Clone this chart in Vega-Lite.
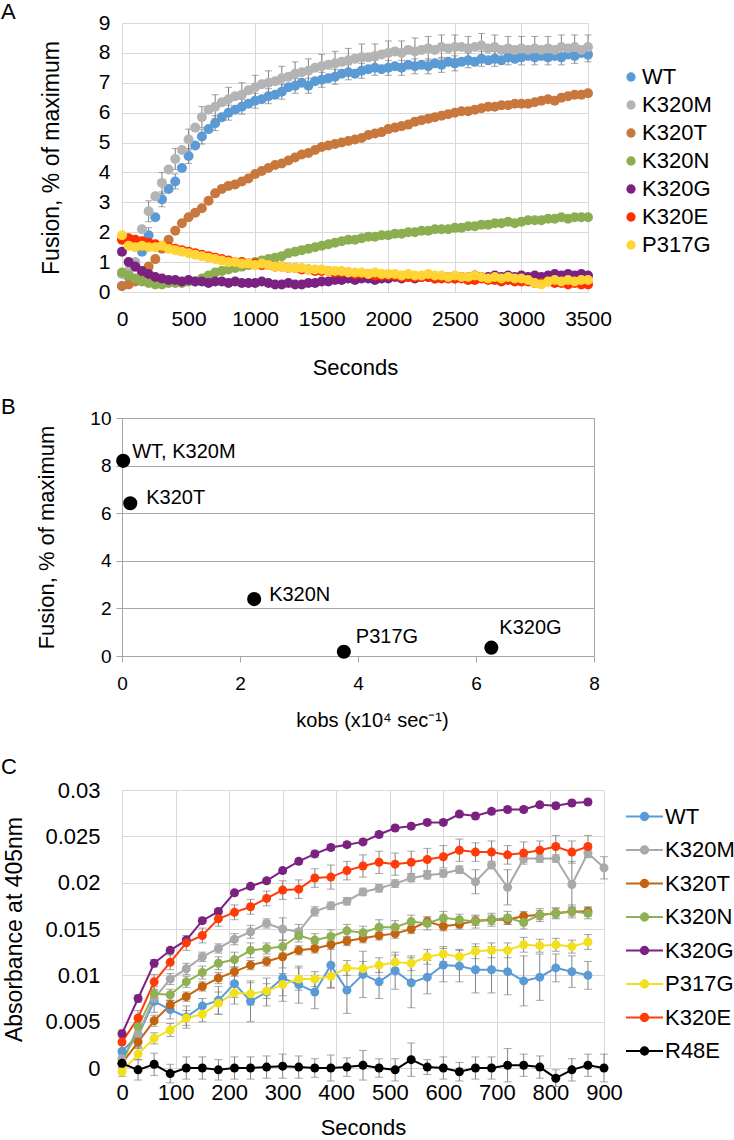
{
"$schema": "https://vega.github.io/schema/vega-lite/v6.json",
"background": "white",
"padding": {"left": 0, "top": 1, "right": 0, "bottom": 0},
"config": {
  "font": "Liberation Sans",
  "view": {"stroke": null},
  "axis": {"labelColor": "#000000", "titleColor": "#000000", "titleFontWeight": "normal", "labelFont": "Liberation Sans", "titleFont": "Liberation Sans", "labelFlush": false, "labelOverlap": false},
  "legend": {"labelColor": "#000000", "labelFont": "Liberation Sans"},
  "title": {"fontWeight": "normal", "font": "Liberation Sans", "color": "#000000"}
},
"bounds": "flush",
"spacing": 0,
"resolve": {"scale": {"x": "independent", "y": "independent", "color": "independent"}},
"datasets": {
"fa": [
{"g":"WT","t":0,"v":0.2},{"g":"WT","t":50,"v":0.5},{"g":"WT","t":100,"v":0.9,"e":0.2},{"g":"WT","t":150,"v":1.35},{"g":"WT","t":200,"v":1.9,"e":0.25},{"g":"WT","t":250,"v":2.5},{"g":"WT","t":300,"v":3.1,"e":0.25},{"g":"WT","t":350,"v":3.45},{"g":"WT","t":400,"v":3.7,"e":0.25},{"g":"WT","t":450,"v":4.15},
{"g":"WT","t":500,"v":4.55,"e":0.25},{"g":"WT","t":550,"v":4.9},{"g":"WT","t":600,"v":5.2,"e":0.25},{"g":"WT","t":650,"v":5.45},{"g":"WT","t":700,"v":5.65,"e":0.25},{"g":"WT","t":750,"v":5.85},{"g":"WT","t":800,"v":6.0,"e":0.25},{"g":"WT","t":850,"v":6.1},{"g":"WT","t":900,"v":6.2,"e":0.25},{"g":"WT","t":950,"v":6.3},
{"g":"WT","t":1000,"v":6.4,"e":0.25},{"g":"WT","t":1050,"v":6.45},{"g":"WT","t":1100,"v":6.55,"e":0.25},{"g":"WT","t":1150,"v":6.6},{"g":"WT","t":1200,"v":6.7,"e":0.25},{"g":"WT","t":1250,"v":6.85},{"g":"WT","t":1300,"v":6.9,"e":0.25},{"g":"WT","t":1350,"v":7.0},{"g":"WT","t":1400,"v":6.9,"e":0.25},{"g":"WT","t":1450,"v":7.05},
{"g":"WT","t":1500,"v":7.1,"e":0.25},{"g":"WT","t":1550,"v":7.15},{"g":"WT","t":1600,"v":7.2,"e":0.25},{"g":"WT","t":1650,"v":7.3},{"g":"WT","t":1700,"v":7.35,"e":0.25},{"g":"WT","t":1750,"v":7.3},{"g":"WT","t":1800,"v":7.4,"e":0.25},{"g":"WT","t":1850,"v":7.45},{"g":"WT","t":1900,"v":7.5,"e":0.25},{"g":"WT","t":1950,"v":7.45},
{"g":"WT","t":2000,"v":7.5,"e":0.25},{"g":"WT","t":2050,"v":7.55},{"g":"WT","t":2100,"v":7.5,"e":0.25},{"g":"WT","t":2150,"v":7.6},{"g":"WT","t":2200,"v":7.55,"e":0.25},{"g":"WT","t":2250,"v":7.6},{"g":"WT","t":2300,"v":7.55,"e":0.25},{"g":"WT","t":2350,"v":7.65},{"g":"WT","t":2400,"v":7.6,"e":0.25},{"g":"WT","t":2450,"v":7.7},
{"g":"WT","t":2500,"v":7.65,"e":0.25},{"g":"WT","t":2550,"v":7.7},{"g":"WT","t":2600,"v":7.75,"e":0.25},{"g":"WT","t":2650,"v":7.7},{"g":"WT","t":2700,"v":7.8,"e":0.25},{"g":"WT","t":2750,"v":7.75},{"g":"WT","t":2800,"v":7.8,"e":0.25},{"g":"WT","t":2850,"v":7.75},{"g":"WT","t":2900,"v":7.85,"e":0.25},{"g":"WT","t":2950,"v":7.8},
{"g":"WT","t":3000,"v":7.85,"e":0.25},{"g":"WT","t":3050,"v":7.9},{"g":"WT","t":3100,"v":7.85,"e":0.25},{"g":"WT","t":3150,"v":7.9},{"g":"WT","t":3200,"v":7.85,"e":0.25},{"g":"WT","t":3250,"v":7.9},{"g":"WT","t":3300,"v":7.85,"e":0.25},{"g":"WT","t":3350,"v":7.95},{"g":"WT","t":3400,"v":7.9,"e":0.25},{"g":"WT","t":3450,"v":8.0},{"g":"WT","t":3500,"v":7.95,"e":0.25},
{"g":"K320M","t":0,"v":0.6},{"g":"K320M","t":50,"v":0.7},{"g":"K320M","t":100,"v":1.0},{"g":"K320M","t":150,"v":2.1},{"g":"K320M","t":200,"v":2.7,"e":0.35},{"g":"K320M","t":250,"v":3.2},{"g":"K320M","t":300,"v":3.65,"e":0.35},{"g":"K320M","t":350,"v":4.1},{"g":"K320M","t":400,"v":4.45,"e":0.35},{"g":"K320M","t":450,"v":4.75},
{"g":"K320M","t":500,"v":5.1,"e":0.35},{"g":"K320M","t":550,"v":5.5},{"g":"K320M","t":600,"v":5.85,"e":0.35},{"g":"K320M","t":650,"v":6.1},{"g":"K320M","t":700,"v":6.2,"e":0.4},{"g":"K320M","t":750,"v":6.35},{"g":"K320M","t":800,"v":6.45,"e":0.4},{"g":"K320M","t":850,"v":6.55},{"g":"K320M","t":900,"v":6.6,"e":0.4},{"g":"K320M","t":950,"v":6.75},
{"g":"K320M","t":1000,"v":6.85,"e":0.4},{"g":"K320M","t":1050,"v":6.95},{"g":"K320M","t":1100,"v":7.0,"e":0.4},{"g":"K320M","t":1150,"v":7.05},{"g":"K320M","t":1200,"v":7.15,"e":0.4},{"g":"K320M","t":1250,"v":7.2},{"g":"K320M","t":1300,"v":7.3,"e":0.4},{"g":"K320M","t":1350,"v":7.35},{"g":"K320M","t":1400,"v":7.4,"e":0.4},{"g":"K320M","t":1450,"v":7.5},
{"g":"K320M","t":1500,"v":7.55,"e":0.4},{"g":"K320M","t":1550,"v":7.6},{"g":"K320M","t":1600,"v":7.65,"e":0.4},{"g":"K320M","t":1650,"v":7.7},{"g":"K320M","t":1700,"v":7.75,"e":0.4},{"g":"K320M","t":1750,"v":7.8},{"g":"K320M","t":1800,"v":7.85,"e":0.45},{"g":"K320M","t":1850,"v":7.85},{"g":"K320M","t":1900,"v":7.9,"e":0.4},{"g":"K320M","t":1950,"v":7.95},
{"g":"K320M","t":2000,"v":8.0,"e":0.4},{"g":"K320M","t":2050,"v":8.05},{"g":"K320M","t":2100,"v":8.0,"e":0.4},{"g":"K320M","t":2150,"v":8.1},{"g":"K320M","t":2200,"v":8.05,"e":0.45},{"g":"K320M","t":2250,"v":8.1},{"g":"K320M","t":2300,"v":8.15,"e":0.4},{"g":"K320M","t":2350,"v":8.1},{"g":"K320M","t":2400,"v":8.2,"e":0.4},{"g":"K320M","t":2450,"v":8.15},
{"g":"K320M","t":2500,"v":8.2,"e":0.4},{"g":"K320M","t":2550,"v":8.2},{"g":"K320M","t":2600,"v":8.15,"e":0.4},{"g":"K320M","t":2650,"v":8.2},{"g":"K320M","t":2700,"v":8.25,"e":0.4},{"g":"K320M","t":2750,"v":8.15},{"g":"K320M","t":2800,"v":8.2,"e":0.4},{"g":"K320M","t":2850,"v":8.1},{"g":"K320M","t":2900,"v":8.15,"e":0.4},{"g":"K320M","t":2950,"v":8.1},
{"g":"K320M","t":3000,"v":8.15,"e":0.4},{"g":"K320M","t":3050,"v":8.1},{"g":"K320M","t":3100,"v":8.15,"e":0.4},{"g":"K320M","t":3150,"v":8.1},{"g":"K320M","t":3200,"v":8.15,"e":0.4},{"g":"K320M","t":3250,"v":8.1},{"g":"K320M","t":3300,"v":8.2,"e":0.4},{"g":"K320M","t":3350,"v":8.15},{"g":"K320M","t":3400,"v":8.2,"e":0.4},{"g":"K320M","t":3450,"v":8.1},{"g":"K320M","t":3500,"v":8.2,"e":0.4},
{"g":"K320T","t":0,"v":0.2},{"g":"K320T","t":50,"v":0.25},{"g":"K320T","t":100,"v":0.35},{"g":"K320T","t":150,"v":0.6},{"g":"K320T","t":200,"v":0.85},{"g":"K320T","t":250,"v":1.1},{"g":"K320T","t":300,"v":1.45},{"g":"K320T","t":350,"v":1.75},{"g":"K320T","t":400,"v":2.05},{"g":"K320T","t":450,"v":2.3},
{"g":"K320T","t":500,"v":2.5},{"g":"K320T","t":550,"v":2.65},{"g":"K320T","t":600,"v":2.8},{"g":"K320T","t":650,"v":3.05},{"g":"K320T","t":700,"v":3.3},{"g":"K320T","t":750,"v":3.45},{"g":"K320T","t":800,"v":3.55},{"g":"K320T","t":850,"v":3.6},{"g":"K320T","t":900,"v":3.7},{"g":"K320T","t":950,"v":3.8},
{"g":"K320T","t":1000,"v":3.95},{"g":"K320T","t":1050,"v":4.05},{"g":"K320T","t":1100,"v":4.15},{"g":"K320T","t":1150,"v":4.25},{"g":"K320T","t":1200,"v":4.3},{"g":"K320T","t":1250,"v":4.4},{"g":"K320T","t":1300,"v":4.5},{"g":"K320T","t":1350,"v":4.6},{"g":"K320T","t":1400,"v":4.65},{"g":"K320T","t":1450,"v":4.75},
{"g":"K320T","t":1500,"v":4.85},{"g":"K320T","t":1550,"v":4.9},{"g":"K320T","t":1600,"v":4.95},{"g":"K320T","t":1650,"v":5.0},{"g":"K320T","t":1700,"v":5.05},{"g":"K320T","t":1750,"v":5.1},{"g":"K320T","t":1800,"v":5.15},{"g":"K320T","t":1850,"v":5.25},{"g":"K320T","t":1900,"v":5.3},{"g":"K320T","t":1950,"v":5.35},
{"g":"K320T","t":2000,"v":5.45},{"g":"K320T","t":2050,"v":5.5},{"g":"K320T","t":2100,"v":5.55},{"g":"K320T","t":2150,"v":5.6},{"g":"K320T","t":2200,"v":5.7},{"g":"K320T","t":2250,"v":5.75},{"g":"K320T","t":2300,"v":5.8},{"g":"K320T","t":2350,"v":5.85},{"g":"K320T","t":2400,"v":5.9},{"g":"K320T","t":2450,"v":5.95},
{"g":"K320T","t":2500,"v":6.0},{"g":"K320T","t":2550,"v":6.05},{"g":"K320T","t":2600,"v":6.05},{"g":"K320T","t":2650,"v":6.1},{"g":"K320T","t":2700,"v":6.15},{"g":"K320T","t":2750,"v":6.2},{"g":"K320T","t":2800,"v":6.2},{"g":"K320T","t":2850,"v":6.25},{"g":"K320T","t":2900,"v":6.25},{"g":"K320T","t":2950,"v":6.3},
{"g":"K320T","t":3000,"v":6.3},{"g":"K320T","t":3050,"v":6.3},{"g":"K320T","t":3100,"v":6.35},{"g":"K320T","t":3150,"v":6.4},{"g":"K320T","t":3200,"v":6.45},{"g":"K320T","t":3250,"v":6.4},{"g":"K320T","t":3300,"v":6.5},{"g":"K320T","t":3350,"v":6.55},{"g":"K320T","t":3400,"v":6.6},{"g":"K320T","t":3450,"v":6.6},{"g":"K320T","t":3500,"v":6.65},
{"g":"K320N","t":0,"v":0.65},{"g":"K320N","t":50,"v":0.55},{"g":"K320N","t":100,"v":0.45},{"g":"K320N","t":150,"v":0.35},{"g":"K320N","t":200,"v":0.3},{"g":"K320N","t":250,"v":0.25},{"g":"K320N","t":300,"v":0.25},{"g":"K320N","t":350,"v":0.3},{"g":"K320N","t":400,"v":0.3},{"g":"K320N","t":450,"v":0.3},
{"g":"K320N","t":500,"v":0.35},{"g":"K320N","t":550,"v":0.35},{"g":"K320N","t":600,"v":0.45},{"g":"K320N","t":650,"v":0.55},{"g":"K320N","t":700,"v":0.65},{"g":"K320N","t":750,"v":0.7},{"g":"K320N","t":800,"v":0.75},{"g":"K320N","t":850,"v":0.8},{"g":"K320N","t":900,"v":0.85},{"g":"K320N","t":950,"v":0.9},
{"g":"K320N","t":1000,"v":1.0},{"g":"K320N","t":1050,"v":1.05},{"g":"K320N","t":1100,"v":1.1},{"g":"K320N","t":1150,"v":1.15},{"g":"K320N","t":1200,"v":1.2},{"g":"K320N","t":1250,"v":1.3},{"g":"K320N","t":1300,"v":1.35},{"g":"K320N","t":1350,"v":1.4},{"g":"K320N","t":1400,"v":1.45},{"g":"K320N","t":1450,"v":1.5},
{"g":"K320N","t":1500,"v":1.55},{"g":"K320N","t":1550,"v":1.6},{"g":"K320N","t":1600,"v":1.65},{"g":"K320N","t":1650,"v":1.7},{"g":"K320N","t":1700,"v":1.75},{"g":"K320N","t":1750,"v":1.75},{"g":"K320N","t":1800,"v":1.8},{"g":"K320N","t":1850,"v":1.85},{"g":"K320N","t":1900,"v":1.85},{"g":"K320N","t":1950,"v":1.9},
{"g":"K320N","t":2000,"v":1.9},{"g":"K320N","t":2050,"v":1.95},{"g":"K320N","t":2100,"v":1.95},{"g":"K320N","t":2150,"v":2.0},{"g":"K320N","t":2200,"v":2.0},{"g":"K320N","t":2250,"v":2.05},{"g":"K320N","t":2300,"v":2.05},{"g":"K320N","t":2350,"v":2.1},{"g":"K320N","t":2400,"v":2.1},{"g":"K320N","t":2450,"v":2.1},
{"g":"K320N","t":2500,"v":2.15},{"g":"K320N","t":2550,"v":2.15},{"g":"K320N","t":2600,"v":2.2},{"g":"K320N","t":2650,"v":2.2},{"g":"K320N","t":2700,"v":2.25},{"g":"K320N","t":2750,"v":2.25},{"g":"K320N","t":2800,"v":2.3},{"g":"K320N","t":2850,"v":2.3},{"g":"K320N","t":2900,"v":2.35},{"g":"K320N","t":2950,"v":2.3},
{"g":"K320N","t":3000,"v":2.35},{"g":"K320N","t":3050,"v":2.4},{"g":"K320N","t":3100,"v":2.4},{"g":"K320N","t":3150,"v":2.4},{"g":"K320N","t":3200,"v":2.45},{"g":"K320N","t":3250,"v":2.45},{"g":"K320N","t":3300,"v":2.5},{"g":"K320N","t":3350,"v":2.45},{"g":"K320N","t":3400,"v":2.5},{"g":"K320N","t":3450,"v":2.5},{"g":"K320N","t":3500,"v":2.5},
{"g":"K320G","t":0,"v":1.35},{"g":"K320G","t":50,"v":1.0},{"g":"K320G","t":100,"v":0.85},{"g":"K320G","t":150,"v":0.7},{"g":"K320G","t":200,"v":0.6},{"g":"K320G","t":250,"v":0.5},{"g":"K320G","t":300,"v":0.45},{"g":"K320G","t":350,"v":0.4},{"g":"K320G","t":400,"v":0.4},{"g":"K320G","t":450,"v":0.35},
{"g":"K320G","t":500,"v":0.4},{"g":"K320G","t":550,"v":0.35},{"g":"K320G","t":600,"v":0.35},{"g":"K320G","t":650,"v":0.3},{"g":"K320G","t":700,"v":0.35},{"g":"K320G","t":750,"v":0.35},{"g":"K320G","t":800,"v":0.3},{"g":"K320G","t":850,"v":0.35},{"g":"K320G","t":900,"v":0.3},{"g":"K320G","t":950,"v":0.3},
{"g":"K320G","t":1000,"v":0.3},{"g":"K320G","t":1050,"v":0.35},{"g":"K320G","t":1100,"v":0.3},{"g":"K320G","t":1150,"v":0.25},{"g":"K320G","t":1200,"v":0.25},{"g":"K320G","t":1250,"v":0.3},{"g":"K320G","t":1300,"v":0.25},{"g":"K320G","t":1350,"v":0.25},{"g":"K320G","t":1400,"v":0.3},{"g":"K320G","t":1450,"v":0.3},
{"g":"K320G","t":1500,"v":0.35},{"g":"K320G","t":1550,"v":0.35},{"g":"K320G","t":1600,"v":0.4},{"g":"K320G","t":1650,"v":0.4},{"g":"K320G","t":1700,"v":0.45},{"g":"K320G","t":1750,"v":0.4},{"g":"K320G","t":1800,"v":0.45},{"g":"K320G","t":1850,"v":0.45},{"g":"K320G","t":1900,"v":0.4},{"g":"K320G","t":1950,"v":0.45},
{"g":"K320G","t":2000,"v":0.45},{"g":"K320G","t":2050,"v":0.5},{"g":"K320G","t":2100,"v":0.45},{"g":"K320G","t":2150,"v":0.5},{"g":"K320G","t":2200,"v":0.45},{"g":"K320G","t":2250,"v":0.5},{"g":"K320G","t":2300,"v":0.5},{"g":"K320G","t":2350,"v":0.45},{"g":"K320G","t":2400,"v":0.5},{"g":"K320G","t":2450,"v":0.5},
{"g":"K320G","t":2500,"v":0.45},{"g":"K320G","t":2550,"v":0.5},{"g":"K320G","t":2600,"v":0.5},{"g":"K320G","t":2650,"v":0.55},{"g":"K320G","t":2700,"v":0.5},{"g":"K320G","t":2750,"v":0.5},{"g":"K320G","t":2800,"v":0.55},{"g":"K320G","t":2850,"v":0.5},{"g":"K320G","t":2900,"v":0.55},{"g":"K320G","t":2950,"v":0.5},
{"g":"K320G","t":3000,"v":0.55},{"g":"K320G","t":3050,"v":0.5},{"g":"K320G","t":3100,"v":0.55},{"g":"K320G","t":3150,"v":0.5},{"g":"K320G","t":3200,"v":0.55},{"g":"K320G","t":3250,"v":0.6},{"g":"K320G","t":3300,"v":0.55},{"g":"K320G","t":3350,"v":0.6},{"g":"K320G","t":3400,"v":0.55},{"g":"K320G","t":3450,"v":0.6},{"g":"K320G","t":3500,"v":0.55},
{"g":"K320E","t":0,"v":1.75},{"g":"K320E","t":50,"v":1.8},{"g":"K320E","t":100,"v":1.75},{"g":"K320E","t":150,"v":1.7},{"g":"K320E","t":200,"v":1.65},{"g":"K320E","t":250,"v":1.6},{"g":"K320E","t":300,"v":1.55},{"g":"K320E","t":350,"v":1.5},{"g":"K320E","t":400,"v":1.45},{"g":"K320E","t":450,"v":1.4},
{"g":"K320E","t":500,"v":1.35},{"g":"K320E","t":550,"v":1.3},{"g":"K320E","t":600,"v":1.25},{"g":"K320E","t":650,"v":1.2},{"g":"K320E","t":700,"v":1.15},{"g":"K320E","t":750,"v":1.1},{"g":"K320E","t":800,"v":1.05},{"g":"K320E","t":850,"v":1.0},{"g":"K320E","t":900,"v":1.0},{"g":"K320E","t":950,"v":0.95},
{"g":"K320E","t":1000,"v":0.95},{"g":"K320E","t":1050,"v":0.9},{"g":"K320E","t":1100,"v":0.9},{"g":"K320E","t":1150,"v":0.85},{"g":"K320E","t":1200,"v":0.85},{"g":"K320E","t":1250,"v":0.8},{"g":"K320E","t":1300,"v":0.8},{"g":"K320E","t":1350,"v":0.75},{"g":"K320E","t":1400,"v":0.75},{"g":"K320E","t":1450,"v":0.7},
{"g":"K320E","t":1500,"v":0.7},{"g":"K320E","t":1550,"v":0.7},{"g":"K320E","t":1600,"v":0.65},{"g":"K320E","t":1650,"v":0.65},{"g":"K320E","t":1700,"v":0.65},{"g":"K320E","t":1750,"v":0.6},{"g":"K320E","t":1800,"v":0.6},{"g":"K320E","t":1850,"v":0.6},{"g":"K320E","t":1900,"v":0.55},{"g":"K320E","t":1950,"v":0.55},
{"g":"K320E","t":2000,"v":0.55},{"g":"K320E","t":2050,"v":0.55},{"g":"K320E","t":2100,"v":0.5},{"g":"K320E","t":2150,"v":0.5},{"g":"K320E","t":2200,"v":0.5},{"g":"K320E","t":2250,"v":0.5},{"g":"K320E","t":2300,"v":0.5},{"g":"K320E","t":2350,"v":0.45},{"g":"K320E","t":2400,"v":0.45},{"g":"K320E","t":2450,"v":0.45},
{"g":"K320E","t":2500,"v":0.45},{"g":"K320E","t":2550,"v":0.45},{"g":"K320E","t":2600,"v":0.4},{"g":"K320E","t":2650,"v":0.4},{"g":"K320E","t":2700,"v":0.45},{"g":"K320E","t":2750,"v":0.4},{"g":"K320E","t":2800,"v":0.4},{"g":"K320E","t":2850,"v":0.35},{"g":"K320E","t":2900,"v":0.4},{"g":"K320E","t":2950,"v":0.35},
{"g":"K320E","t":3000,"v":0.35},{"g":"K320E","t":3050,"v":0.35},{"g":"K320E","t":3100,"v":0.3},{"g":"K320E","t":3150,"v":0.3},{"g":"K320E","t":3200,"v":0.35},{"g":"K320E","t":3250,"v":0.3},{"g":"K320E","t":3300,"v":0.3},{"g":"K320E","t":3350,"v":0.25},{"g":"K320E","t":3400,"v":0.3},{"g":"K320E","t":3450,"v":0.25},{"g":"K320E","t":3500,"v":0.25},
{"g":"P317G","t":0,"v":1.9},{"g":"P317G","t":50,"v":1.55},{"g":"P317G","t":100,"v":1.5},{"g":"P317G","t":150,"v":1.55},{"g":"P317G","t":200,"v":1.5},{"g":"P317G","t":250,"v":1.5},{"g":"P317G","t":300,"v":1.55},{"g":"P317G","t":350,"v":1.45},{"g":"P317G","t":400,"v":1.4},{"g":"P317G","t":450,"v":1.35},
{"g":"P317G","t":500,"v":1.3},{"g":"P317G","t":550,"v":1.25},{"g":"P317G","t":600,"v":1.2},{"g":"P317G","t":650,"v":1.15},{"g":"P317G","t":700,"v":1.1},{"g":"P317G","t":750,"v":1.05},{"g":"P317G","t":800,"v":1.0},{"g":"P317G","t":850,"v":1.0},{"g":"P317G","t":900,"v":0.95},{"g":"P317G","t":950,"v":0.95},
{"g":"P317G","t":1000,"v":0.9},{"g":"P317G","t":1050,"v":0.95},{"g":"P317G","t":1100,"v":0.9},{"g":"P317G","t":1150,"v":0.85},{"g":"P317G","t":1200,"v":0.85},{"g":"P317G","t":1250,"v":0.8},{"g":"P317G","t":1300,"v":0.8},{"g":"P317G","t":1350,"v":0.8},{"g":"P317G","t":1400,"v":0.75},{"g":"P317G","t":1450,"v":0.75},
{"g":"P317G","t":1500,"v":0.75},{"g":"P317G","t":1550,"v":0.7},{"g":"P317G","t":1600,"v":0.7},{"g":"P317G","t":1650,"v":0.7},{"g":"P317G","t":1700,"v":0.65},{"g":"P317G","t":1750,"v":0.65},{"g":"P317G","t":1800,"v":0.65},{"g":"P317G","t":1850,"v":0.6},{"g":"P317G","t":1900,"v":0.65},{"g":"P317G","t":1950,"v":0.6},
{"g":"P317G","t":2000,"v":0.6},{"g":"P317G","t":2050,"v":0.6},{"g":"P317G","t":2100,"v":0.55},{"g":"P317G","t":2150,"v":0.6},{"g":"P317G","t":2200,"v":0.55},{"g":"P317G","t":2250,"v":0.55},{"g":"P317G","t":2300,"v":0.6},{"g":"P317G","t":2350,"v":0.55},{"g":"P317G","t":2400,"v":0.55},{"g":"P317G","t":2450,"v":0.5},
{"g":"P317G","t":2500,"v":0.55},{"g":"P317G","t":2550,"v":0.5},{"g":"P317G","t":2600,"v":0.5},{"g":"P317G","t":2650,"v":0.55},{"g":"P317G","t":2700,"v":0.5},{"g":"P317G","t":2750,"v":0.45},{"g":"P317G","t":2800,"v":0.5},{"g":"P317G","t":2850,"v":0.45},{"g":"P317G","t":2900,"v":0.5},{"g":"P317G","t":2950,"v":0.45},
{"g":"P317G","t":3000,"v":0.45},{"g":"P317G","t":3050,"v":0.4},{"g":"P317G","t":3100,"v":0.3},{"g":"P317G","t":3150,"v":0.25},{"g":"P317G","t":3200,"v":0.35},{"g":"P317G","t":3250,"v":0.4},{"g":"P317G","t":3300,"v":0.35},{"g":"P317G","t":3350,"v":0.4},{"g":"P317G","t":3400,"v":0.35},{"g":"P317G","t":3450,"v":0.4},{"g":"P317G","t":3500,"v":0.4}
],
"fb": [
{"n":"WT, K320M","k":0.02,"f":8.2},
{"n":"K320T","k":0.14,"f":6.42},
{"n":"K320N","k":2.24,"f":2.39},
{"n":"P317G","k":3.76,"f":0.18},
{"n":"K320G","k":6.26,"f":0.35}
],
"fc": [
{"g":"WT","t":0,"v":0.0018,"e":0.0008},{"g":"WT","t":30,"v":0.0035,"e":0.0012},{"g":"WT","t":60,"v":0.0072,"e":0.0012},{"g":"WT","t":90,"v":0.0063,"e":0.001},{"g":"WT","t":120,"v":0.0055,"e":0.0012},{"g":"WT","t":150,"v":0.0067,"e":0.0008},{"g":"WT","t":180,"v":0.0073,"e":0.0015},{"g":"WT","t":210,"v":0.0091,"e":0.0015},{"g":"WT","t":240,"v":0.0072,"e":0.0022},{"g":"WT","t":270,"v":0.0082,"e":0.0015},
{"g":"WT","t":300,"v":0.0097,"e":0.0025},{"g":"WT","t":330,"v":0.009,"e":0.002},{"g":"WT","t":360,"v":0.0082,"e":0.0018},{"g":"WT","t":390,"v":0.0111,"e":0.0025},{"g":"WT","t":420,"v":0.0084,"e":0.0025},{"g":"WT","t":450,"v":0.0101,"e":0.0025},{"g":"WT","t":480,"v":0.0093,"e":0.0018},{"g":"WT","t":510,"v":0.0105,"e":0.002},{"g":"WT","t":540,"v":0.0092,"e":0.0027},{"g":"WT","t":570,"v":0.0098,"e":0.0018},
{"g":"WT","t":600,"v":0.0111,"e":0.0018},{"g":"WT","t":630,"v":0.011,"e":0.0017},{"g":"WT","t":660,"v":0.0106,"e":0.0025},{"g":"WT","t":690,"v":0.0106,"e":0.0025},{"g":"WT","t":720,"v":0.0104,"e":0.0025},{"g":"WT","t":750,"v":0.0094,"e":0.0027},{"g":"WT","t":780,"v":0.0098,"e":0.0025},{"g":"WT","t":810,"v":0.0108,"e":0.0015},{"g":"WT","t":840,"v":0.0104,"e":0.0017},{"g":"WT","t":870,"v":0.01,"e":0.0015},
{"g":"K320M","t":0,"v":0.001,"e":0.0005},{"g":"K320M","t":30,"v":0.0037,"e":0.0005},{"g":"K320M","t":60,"v":0.0075,"e":0.0006},{"g":"K320M","t":90,"v":0.0096,"e":0.0006},{"g":"K320M","t":120,"v":0.0107,"e":0.0006},{"g":"K320M","t":150,"v":0.012,"e":0.0005},{"g":"K320M","t":180,"v":0.0129,"e":0.0005},{"g":"K320M","t":210,"v":0.0139,"e":0.0006},{"g":"K320M","t":240,"v":0.0147,"e":0.0007},{"g":"K320M","t":270,"v":0.0156,"e":0.0005},
{"g":"K320M","t":300,"v":0.015,"e":0.0012},{"g":"K320M","t":330,"v":0.0147,"e":0.0008},{"g":"K320M","t":360,"v":0.0169,"e":0.0005},{"g":"K320M","t":390,"v":0.0175,"e":0.0004},{"g":"K320M","t":420,"v":0.018,"e":0.0004},{"g":"K320M","t":450,"v":0.019,"e":0.0004},{"g":"K320M","t":480,"v":0.0194,"e":0.0004},{"g":"K320M","t":510,"v":0.0199,"e":0.0004},{"g":"K320M","t":540,"v":0.0205,"e":0.0004},{"g":"K320M","t":570,"v":0.0208,"e":0.0004},
{"g":"K320M","t":600,"v":0.021,"e":0.0004},{"g":"K320M","t":630,"v":0.0214,"e":0.0004},{"g":"K320M","t":660,"v":0.0201,"e":0.0013},{"g":"K320M","t":690,"v":0.0219,"e":0.0004},{"g":"K320M","t":720,"v":0.0195,"e":0.0019},{"g":"K320M","t":750,"v":0.0226,"e":0.0004},{"g":"K320M","t":780,"v":0.0226,"e":0.0004},{"g":"K320M","t":810,"v":0.0226,"e":0.0004},{"g":"K320M","t":840,"v":0.0198,"e":0.0025},{"g":"K320M","t":870,"v":0.0232,"e":0.0004},{"g":"K320M","t":900,"v":0.0216,"e":0.0012},
{"g":"K320T","t":0,"v":0.0005,"e":0.0004},{"g":"K320T","t":30,"v":0.0028,"e":0.0006},{"g":"K320T","t":60,"v":0.0051,"e":0.0006},{"g":"K320T","t":90,"v":0.0068,"e":0.0005},{"g":"K320T","t":120,"v":0.0077,"e":0.0005},{"g":"K320T","t":150,"v":0.0088,"e":0.0005},{"g":"K320T","t":180,"v":0.0097,"e":0.0006},{"g":"K320T","t":210,"v":0.0104,"e":0.0005},{"g":"K320T","t":240,"v":0.0111,"e":0.0005},{"g":"K320T","t":270,"v":0.0115,"e":0.0005},
{"g":"K320T","t":300,"v":0.012,"e":0.0012},{"g":"K320T","t":330,"v":0.0127,"e":0.0005},{"g":"K320T","t":360,"v":0.0129,"e":0.0005},{"g":"K320T","t":390,"v":0.0133,"e":0.0005},{"g":"K320T","t":420,"v":0.0137,"e":0.0005},{"g":"K320T","t":450,"v":0.014,"e":0.0005},{"g":"K320T","t":480,"v":0.0143,"e":0.0005},{"g":"K320T","t":510,"v":0.0145,"e":0.0005},{"g":"K320T","t":540,"v":0.015,"e":0.0005},{"g":"K320T","t":570,"v":0.0158,"e":0.0005},
{"g":"K320T","t":600,"v":0.0153,"e":0.0005},{"g":"K320T","t":630,"v":0.0155,"e":0.0005},{"g":"K320T","t":660,"v":0.0159,"e":0.0005},{"g":"K320T","t":690,"v":0.016,"e":0.0005},{"g":"K320T","t":720,"v":0.016,"e":0.0005},{"g":"K320T","t":750,"v":0.0164,"e":0.0005},{"g":"K320T","t":780,"v":0.0165,"e":0.0005},{"g":"K320T","t":810,"v":0.0167,"e":0.0005},{"g":"K320T","t":840,"v":0.0169,"e":0.0005},{"g":"K320T","t":870,"v":0.0169,"e":0.0005},
{"g":"K320N","t":0,"v":0.0005,"e":0.0005},{"g":"K320N","t":30,"v":0.0045,"e":0.0008},{"g":"K320N","t":60,"v":0.008,"e":0.0008},{"g":"K320N","t":90,"v":0.0079,"e":0.0006},{"g":"K320N","t":120,"v":0.0093,"e":0.0006},{"g":"K320N","t":150,"v":0.0103,"e":0.0007},{"g":"K320N","t":180,"v":0.0113,"e":0.0007},{"g":"K320N","t":210,"v":0.0117,"e":0.0008},{"g":"K320N","t":240,"v":0.0127,"e":0.0008},{"g":"K320N","t":270,"v":0.0129,"e":0.0006},
{"g":"K320N","t":300,"v":0.0131,"e":0.0007},{"g":"K320N","t":330,"v":0.0143,"e":0.0007},{"g":"K320N","t":360,"v":0.0138,"e":0.0007},{"g":"K320N","t":390,"v":0.0142,"e":0.0007},{"g":"K320N","t":420,"v":0.0148,"e":0.0007},{"g":"K320N","t":450,"v":0.0146,"e":0.0007},{"g":"K320N","t":480,"v":0.0152,"e":0.0008},{"g":"K320N","t":510,"v":0.0152,"e":0.0007},{"g":"K320N","t":540,"v":0.0158,"e":0.0007},{"g":"K320N","t":570,"v":0.0156,"e":0.0007},
{"g":"K320N","t":600,"v":0.0162,"e":0.0007},{"g":"K320N","t":630,"v":0.016,"e":0.0006},{"g":"K320N","t":660,"v":0.0158,"e":0.0007},{"g":"K320N","t":690,"v":0.016,"e":0.0007},{"g":"K320N","t":720,"v":0.0162,"e":0.0007},{"g":"K320N","t":750,"v":0.0157,"e":0.0007},{"g":"K320N","t":780,"v":0.0165,"e":0.0007},{"g":"K320N","t":810,"v":0.0167,"e":0.0006},{"g":"K320N","t":840,"v":0.0169,"e":0.0007},{"g":"K320N","t":870,"v":0.0167,"e":0.0006},
{"g":"K320G","t":0,"v":0.0037,"e":0.0004},{"g":"K320G","t":30,"v":0.0075,"e":0.0004},{"g":"K320G","t":60,"v":0.0113,"e":0.0004},{"g":"K320G","t":90,"v":0.0127,"e":0.0003},{"g":"K320G","t":120,"v":0.0138,"e":0.0003},{"g":"K320G","t":150,"v":0.0159,"e":0.0003},{"g":"K320G","t":180,"v":0.0169,"e":0.0003},{"g":"K320G","t":210,"v":0.0189,"e":0.0003},{"g":"K320G","t":240,"v":0.0196,"e":0.0003},{"g":"K320G","t":270,"v":0.0202,"e":0.0003},
{"g":"K320G","t":300,"v":0.0213,"e":0.0003},{"g":"K320G","t":330,"v":0.0223,"e":0.0003},{"g":"K320G","t":360,"v":0.0231,"e":0.0004},{"g":"K320G","t":390,"v":0.0238,"e":0.0003},{"g":"K320G","t":420,"v":0.0241,"e":0.0003},{"g":"K320G","t":450,"v":0.0244,"e":0.0003},{"g":"K320G","t":480,"v":0.0252,"e":0.0003},{"g":"K320G","t":510,"v":0.0259,"e":0.0003},{"g":"K320G","t":540,"v":0.0261,"e":0.0003},{"g":"K320G","t":570,"v":0.0265,"e":0.0003},
{"g":"K320G","t":600,"v":0.0265,"e":0.0003},{"g":"K320G","t":630,"v":0.0274,"e":0.0003},{"g":"K320G","t":660,"v":0.0272,"e":0.0003},{"g":"K320G","t":690,"v":0.0277,"e":0.0003},{"g":"K320G","t":720,"v":0.0279,"e":0.0003},{"g":"K320G","t":750,"v":0.0279,"e":0.0003},{"g":"K320G","t":780,"v":0.0284,"e":0.0003},{"g":"K320G","t":810,"v":0.0283,"e":0.0003},{"g":"K320G","t":840,"v":0.0286,"e":0.0003},{"g":"K320G","t":870,"v":0.0287,"e":0.0003},
{"g":"P317G","t":0,"v":-0.0004,"e":0.0005},{"g":"P317G","t":30,"v":0.0015,"e":0.0006},{"g":"P317G","t":60,"v":0.0032,"e":0.0006},{"g":"P317G","t":90,"v":0.0041,"e":0.0007},{"g":"P317G","t":120,"v":0.0054,"e":0.0008},{"g":"P317G","t":150,"v":0.0058,"e":0.0008},{"g":"P317G","t":180,"v":0.007,"e":0.0012},{"g":"P317G","t":210,"v":0.0081,"e":0.0012},{"g":"P317G","t":240,"v":0.008,"e":0.0012},{"g":"P317G","t":270,"v":0.0083,"e":0.0008},
{"g":"P317G","t":300,"v":0.009,"e":0.0012},{"g":"P317G","t":330,"v":0.0096,"e":0.0012},{"g":"P317G","t":360,"v":0.0096,"e":0.0008},{"g":"P317G","t":390,"v":0.0099,"e":0.0012},{"g":"P317G","t":420,"v":0.0108,"e":0.0008},{"g":"P317G","t":450,"v":0.0107,"e":0.0008},{"g":"P317G","t":480,"v":0.0111,"e":0.0008},{"g":"P317G","t":510,"v":0.0114,"e":0.0008},{"g":"P317G","t":540,"v":0.0113,"e":0.0008},{"g":"P317G","t":570,"v":0.012,"e":0.0008},
{"g":"P317G","t":600,"v":0.0123,"e":0.0008},{"g":"P317G","t":630,"v":0.012,"e":0.0008},{"g":"P317G","t":660,"v":0.0126,"e":0.0008},{"g":"P317G","t":690,"v":0.0127,"e":0.0008},{"g":"P317G","t":720,"v":0.0127,"e":0.0008},{"g":"P317G","t":750,"v":0.0133,"e":0.0008},{"g":"P317G","t":780,"v":0.0132,"e":0.0007},{"g":"P317G","t":810,"v":0.0133,"e":0.0007},{"g":"P317G","t":840,"v":0.0131,"e":0.0007},{"g":"P317G","t":870,"v":0.0136,"e":0.0008},
{"g":"K320E","t":0,"v":0.0028,"e":0.0008},{"g":"K320E","t":30,"v":0.0054,"e":0.0008},{"g":"K320E","t":60,"v":0.0093,"e":0.0008},{"g":"K320E","t":90,"v":0.0114,"e":0.0008},{"g":"K320E","t":120,"v":0.0135,"e":0.0008},{"g":"K320E","t":150,"v":0.0143,"e":0.0008},{"g":"K320E","t":180,"v":0.0161,"e":0.0008},{"g":"K320E","t":210,"v":0.0168,"e":0.0008},{"g":"K320E","t":240,"v":0.0174,"e":0.0008},{"g":"K320E","t":270,"v":0.0183,"e":0.0008},
{"g":"K320E","t":300,"v":0.0192,"e":0.001},{"g":"K320E","t":330,"v":0.0193,"e":0.001},{"g":"K320E","t":360,"v":0.0205,"e":0.001},{"g":"K320E","t":390,"v":0.0206,"e":0.0013},{"g":"K320E","t":420,"v":0.0213,"e":0.001},{"g":"K320E","t":450,"v":0.0218,"e":0.0012},{"g":"K320E","t":480,"v":0.0222,"e":0.0012},{"g":"K320E","t":510,"v":0.022,"e":0.0012},{"g":"K320E","t":540,"v":0.0222,"e":0.0012},{"g":"K320E","t":570,"v":0.0225,"e":0.0012},
{"g":"K320E","t":600,"v":0.0228,"e":0.0012},{"g":"K320E","t":630,"v":0.0235,"e":0.0012},{"g":"K320E","t":660,"v":0.0233,"e":0.001},{"g":"K320E","t":690,"v":0.0233,"e":0.0012},{"g":"K320E","t":720,"v":0.023,"e":0.001},{"g":"K320E","t":750,"v":0.0232,"e":0.0012},{"g":"K320E","t":780,"v":0.0235,"e":0.001},{"g":"K320E","t":810,"v":0.0239,"e":0.0012},{"g":"K320E","t":840,"v":0.0233,"e":0.0012},{"g":"K320E","t":870,"v":0.0239,"e":0.0012},
{"g":"R48E","t":0,"v":0.0005,"e":0.0009},{"g":"R48E","t":30,"v":-0.0002,"e":0.0011},{"g":"R48E","t":60,"v":0.0004,"e":0.0012},{"g":"R48E","t":90,"v":-0.0006,"e":0.001},{"g":"R48E","t":120,"v":0.0,"e":0.0012},{"g":"R48E","t":150,"v":0.0,"e":0.0012},{"g":"R48E","t":180,"v":-0.0002,"e":0.0011},{"g":"R48E","t":210,"v":0.0,"e":0.0012},{"g":"R48E","t":240,"v":0.0,"e":0.0012},{"g":"R48E","t":270,"v":0.0001,"e":0.0012},
{"g":"R48E","t":300,"v":0.0002,"e":0.0013},{"g":"R48E","t":330,"v":0.0001,"e":0.0012},{"g":"R48E","t":360,"v":0.0,"e":0.001},{"g":"R48E","t":390,"v":0.0,"e":0.0014},{"g":"R48E","t":420,"v":0.0001,"e":0.001},{"g":"R48E","t":450,"v":0.0003,"e":0.0016},{"g":"R48E","t":480,"v":0.0,"e":0.001},{"g":"R48E","t":510,"v":-0.0002,"e":0.0012},{"g":"R48E","t":540,"v":0.0009,"e":0.0018},{"g":"R48E","t":570,"v":0.0001,"e":0.0008},
{"g":"R48E","t":600,"v":0.0,"e":0.0012},{"g":"R48E","t":630,"v":-0.0004,"e":0.001},{"g":"R48E","t":660,"v":0.0,"e":0.0012},{"g":"R48E","t":690,"v":0.0,"e":0.0012},{"g":"R48E","t":720,"v":0.0003,"e":0.0018},{"g":"R48E","t":750,"v":0.0003,"e":0.0012},{"g":"R48E","t":780,"v":0.0001,"e":0.0012},{"g":"R48E","t":810,"v":-0.0011,"e":0.0009},{"g":"R48E","t":840,"v":-0.0002,"e":0.0012},{"g":"R48E","t":870,"v":0.0003,"e":0.0012},{"g":"R48E","t":900,"v":0.0,"e":0.0015}
]
},
"vconcat": [
{
  "width": 466, "height": 269,
  "title": {"text": "A", "anchor": "start", "frame": "group", "fontSize": 22, "dx": -121, "offset": -12},
  "data": {"name": "fa"},
  "encoding": {
    "x": {"field": "t", "type": "quantitative", "scale": {"domain": [0, 3500], "nice": false},
      "axis": {"title": "Seconds", "values": [0,500,1000,1500,2000,2500,3000,3500], "format": "d", "grid": true, "gridColor": "#d9d9d9", "domain": false, "ticks": false, "labelFontSize": 21, "labelPadding": 16, "titleFontSize": 22, "titleY": 75, "titleBaseline": "middle"}},
    "y": {"field": "v", "type": "quantitative", "scale": {"domain": [0, 9], "nice": false},
      "axis": {"title": "Fusion, % of maximum", "values": [0,1,2,3,4,5,6,7,8,9], "grid": true, "gridColor": "#d9d9d9", "domain": false, "ticks": false, "labelFontSize": 21, "labelPadding": 12, "titleFontSize": 23, "titleX": -71, "titleBaseline": "middle"}}
  },
  "layer": [
    {"transform": [{"filter": "isValid(datum.e)"}],
     "mark": {"type": "errorbar", "color": "#7f7f7f", "ticks": {"size": 7}, "thickness": 1},
     "encoding": {"yError": {"field": "e"}}},
    {"mark": {"type": "point", "filled": true, "opacity": 1, "size": 100},
     "encoding": {"color": {"field": "g", "type": "nominal",
       "scale": {"domain": ["WT","K320M","K320T","K320N","K320G","K320E","P317G"], "range": ["#5b9bd5","#b4b4b4","#c8783c","#8cae50","#7b2180","#ff3000","#ffd435"]},
       "legend": {"title": null, "orient": "none", "legendX": 498, "legendY": 43, "labelFontSize": 22, "symbolSize": 86, "symbolType": "circle", "rowPadding": 6, "labelOffset": 0, "padding": 0}}}}
  ]
},
{"width": 10, "height": 126, "data": {"values": []}, "mark": "point", "encoding": {}},
{
  "width": 472, "height": 238,
  "view": {"stroke": "#a6a6a6"},
  "title": {"text": "B", "anchor": "start", "frame": "group", "fontSize": 22, "dx": -121, "offset": -10},
  "data": {"name": "fb"},
  "encoding": {
    "x": {"field": "k", "type": "quantitative", "scale": {"domain": [0, 8], "nice": false},
      "axis": {"title": "kobs  (x10⁴ sec⁻¹)", "values": [0,2,4,6,8], "grid": false, "domain": true, "domainColor": "#a6a6a6", "ticks": true, "tickColor": "#a6a6a6", "tickSize": 6, "labelFontSize": 19, "labelPadding": 12, "titleFontSize": 20, "titleY": 64, "titleX": 250, "titleBaseline": "middle"}},
    "y": {"field": "f", "type": "quantitative", "scale": {"domain": [0, 10], "nice": false},
      "axis": {"title": "Fusion, % of maximum", "values": [0,2,4,6,8,10], "grid": true, "gridColor": "#a6a6a6", "domain": true, "domainColor": "#a6a6a6", "ticks": true, "tickColor": "#a6a6a6", "tickSize": 6, "labelFontSize": 19, "labelPadding": 5, "titleFontSize": 22, "titleX": -76, "titleBaseline": "middle"}}
  },
  "layer": [
    {"mark": {"type": "point", "filled": true, "opacity": 1, "size": 200, "color": "#000000"}},
    {"transform": [{"filter": "datum.n == 'WT, K320M'"}], "mark": {"type": "text", "align": "left", "baseline": "middle", "dx": 9, "dy": -9, "fontSize": 20}, "encoding": {"text": {"field": "n"}}},
    {"transform": [{"filter": "datum.n == 'K320T'"}], "mark": {"type": "text", "align": "left", "baseline": "middle", "dx": 16, "dy": -5, "fontSize": 20}, "encoding": {"text": {"field": "n"}}},
    {"transform": [{"filter": "datum.n == 'K320N'"}], "mark": {"type": "text", "align": "left", "baseline": "middle", "dx": 15, "dy": -4, "fontSize": 20}, "encoding": {"text": {"field": "n"}}},
    {"transform": [{"filter": "datum.n == 'P317G'"}], "mark": {"type": "text", "align": "left", "baseline": "middle", "dx": 12, "dy": -15, "fontSize": 20}, "encoding": {"text": {"field": "n"}}},
    {"transform": [{"filter": "datum.n == 'K320G'"}], "mark": {"type": "text", "align": "left", "baseline": "middle", "dx": 8, "dy": -20, "fontSize": 20}, "encoding": {"text": {"field": "n"}}}
  ]
},
{"width": 10, "height": 134, "data": {"values": []}, "mark": "point", "encoding": {}},
{
  "width": 482, "height": 278,
  "title": {"text": "C", "anchor": "start", "frame": "group", "fontSize": 22, "dx": -121, "offset": 0},
  "data": {"name": "fc"},
  "encoding": {
    "x": {"field": "t", "type": "quantitative", "scale": {"domain": [0, 900], "nice": false},
      "axis": {"title": "Seconds", "values": [0,100,200,300,400,500,600,700,800,900], "format": "d", "grid": true, "gridColor": "#d9d9d9", "domain": false, "ticks": false, "labelFontSize": 22, "labelPadding": 14, "titleFontSize": 22, "titleY": 59, "titleBaseline": "middle"}},
    "y": {"field": "v", "type": "quantitative", "scale": {"domain": [0, 0.03], "nice": false},
      "axis": {"title": "Absorbance at 405nm", "values": [0,0.005,0.01,0.015,0.02,0.025,0.03], "format": "~g", "grid": true, "gridColor": "#d9d9d9", "domain": false, "ticks": false, "labelFontSize": 22, "labelPadding": 22, "titleFontSize": 23, "titleX": -108, "titleBaseline": "middle"}}
  },
  "layer": [
    {"mark": {"type": "errorbar", "color": "#808080", "ticks": {"size": 8}, "thickness": 1},
     "encoding": {"yError": {"field": "e"}}},
    {"mark": {"type": "line", "strokeWidth": 2},
     "encoding": {"color": {"field": "g", "type": "nominal",
       "scale": {"domain": ["WT","K320M","K320T","K320N","K320G","P317G","K320E","R48E"], "range": ["#5b9bd5","#a9a9a9","#c4640f","#8fb153","#7b2182","#f2e01e","#ff3b0a","#000000"]},
       "legend": {"title": null, "orient": "none", "legendX": 503, "legendY": 7, "labelFontSize": 22, "symbolSize": 1369, "symbolType": "M-1,0H1M-0.2,0a0.2,0.2 0 1,0 0.4,0a0.2,0.2 0 1,0 -0.4,0M-0.11,0a0.11,0.11 0 1,0 0.22,0a0.11,0.11 0 1,0 -0.22,0M-0.03,0a0.03,0.03 0 1,0 0.06,0a0.03,0.03 0 1,0 -0.06,0", "symbolStrokeWidth": 2, "rowPadding": 2.5, "labelOffset": 1, "padding": 0}}}},
    {"mark": {"type": "point", "filled": true, "opacity": 1, "size": 81},
     "encoding": {"color": {"field": "g", "type": "nominal"}}}
  ]
}
]
}
